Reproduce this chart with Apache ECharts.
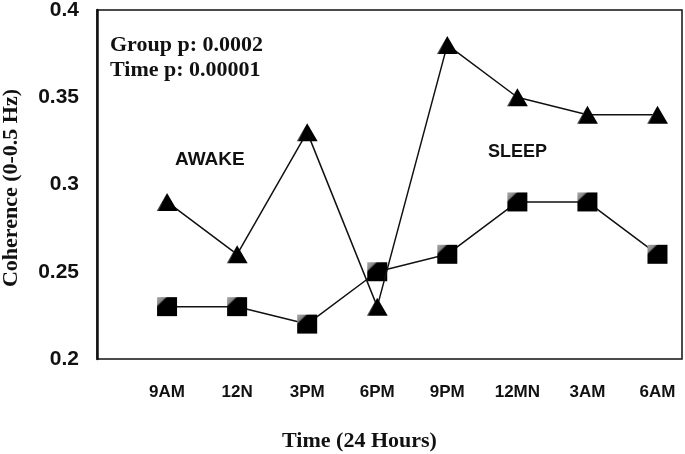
<!DOCTYPE html>
<html lang="en">
<head>
    <meta charset="UTF-8">
    <title>coherence</title>
    <script src="https://cdn.jsdelivr.net/npm/echarts@6/dist/echarts.min.js"></script>
    <style>
        body { margin: 0; background: #fff; }
    </style>
</head>
<body>
<div id="main" style="width:685px;height:454px"></div>
<script>
    var categories = ['9AM', '12N', '3PM', '6PM', '9PM', '12MN', '3AM', '6AM'];
    var triangleValues = [0.29, 0.26, 0.33, 0.23, 0.38, 0.35, 0.34, 0.34];
    var squareValues = [0.23, 0.23, 0.22, 0.25, 0.26, 0.29, 0.29, 0.26];
    var yTicks = [0.2, 0.25, 0.3, 0.35, 0.4];

    function pairs(vals) {
        return vals.map(function (v, i) { return [i + 1, v]; });
    }

    // gray highlight on the top/left of the markers
    var bevel = {
        type: 'linear', x: 0, y: 0, x2: 1, y2: 1,
        colorStops: [
            { offset: 0, color: '#aaa' },
            { offset: 0.2, color: '#888' },
            { offset: 0.27, color: '#000' },
            { offset: 1, color: '#000' }
        ]
    };
    var triBevel = {
        type: 'linear', x: 0, y: 0, x2: 1, y2: 0.4,
        colorStops: [
            { offset: 0, color: '#aaa' },
            { offset: 0.35, color: '#777' },
            { offset: 0.45, color: '#000' },
            { offset: 1, color: '#000' }
        ]
    };

    var myChart = echarts.init(document.getElementById('main'));
    var option = {
        backgroundColor: '#fff',
        animation: false,
        grid: {
            left: 97, right: 3, top: 10, bottom: 95,
            outerBoundsMode: 'none',
            containLabel: false,
            show: true, borderColor: '#111', borderWidth: 1.5
        },
        xAxis: {
            type: 'value', min: 0, max: 8.35, interval: 1,
            axisLine: { show: false },
            axisTick: { show: false },
            splitLine: { show: false },
            axisLabel: {
                margin: 25,
                fontFamily: 'Liberation Sans, Arial, sans-serif',
                fontWeight: 'bold', fontSize: 17, color: '#111',
                showMaxLabel: false,
                formatter: function (v) { return categories[v - 1] || ''; }
            },
            name: 'Time (24 Hours)',
            nameLocation: 'middle',
            nameGap: 71,
            nameTextStyle: {
                fontFamily: 'Liberation Serif, Times New Roman, serif',
                fontWeight: 'bold', fontSize: 22, color: '#111',
                padding: [0, 60, 0, 0]
            }
        },
        yAxis: {
            type: 'value', min: yTicks[0], max: yTicks[yTicks.length - 1], interval: 0.05,
            axisLine: { show: true, lineStyle: { color: '#111', width: 2.5 } },
            axisTick: { show: false },
            splitLine: { show: false },
            axisLabel: {
                margin: 18,
                fontFamily: 'Liberation Sans, Arial, sans-serif',
                fontWeight: 'bold', fontSize: 21, color: '#111'
            },
            name: 'Coherence (0-0.5 Hz)',
            nameLocation: 'middle',
            nameGap: 75,
            nameTextStyle: {
                fontFamily: 'Liberation Serif, Times New Roman, serif',
                fontWeight: 'bold', fontSize: 22, color: '#111',
                padding: [0, 7, 0, 0]
            }
        },
        graphic: [
            { type: 'text', left: 110, top: 34, style: { text: 'Group p: 0.0002', font: 'bold 22px "Liberation Serif", serif', fill: '#111' } },
            { type: 'text', left: 110, top: 59, style: { text: 'Time p: 0.00001', font: 'bold 22px "Liberation Serif", serif', fill: '#111' } },
            { type: 'text', left: 175, top: 150, style: { text: 'AWAKE', font: 'bold 19px "Liberation Sans", sans-serif', fill: '#111' } },
            { type: 'text', left: 488, top: 143, style: { text: 'SLEEP', font: 'bold 18px "Liberation Sans", sans-serif', fill: '#111' } }
        ],
        series: [
            {
                type: 'line', data: pairs(squareValues),
                symbol: 'rect', symbolSize: [20, 19],
                lineStyle: { color: '#111', width: 1.5 },
                itemStyle: { color: bevel, borderWidth: 0 },
                z: 3
            },
            {
                type: 'line', data: pairs(triangleValues),
                symbol: 'triangle', symbolSize: [21, 18],
                lineStyle: { color: '#111', width: 1.5 },
                itemStyle: { color: triBevel, borderWidth: 0 },
                z: 4
            }
        ]
    };
    myChart.setOption(option);
</script>
</body>
</html>
